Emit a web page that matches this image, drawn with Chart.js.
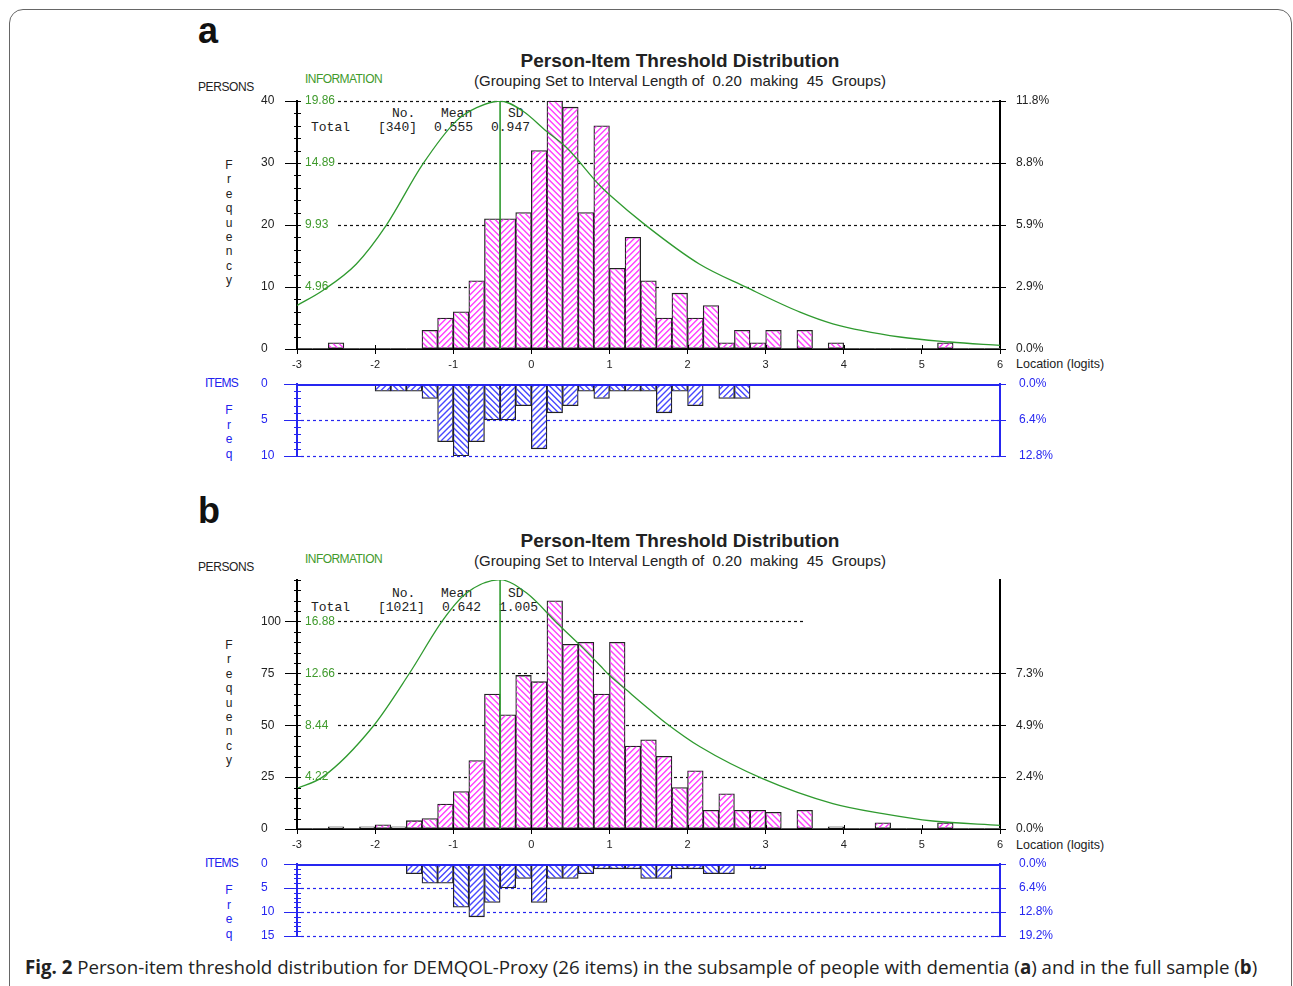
<!DOCTYPE html>
<html>
<head>
<meta charset="utf-8">
<title>Person-Item Threshold Distribution</title>
<script src="https://cdn.jsdelivr.net/npm/chart.js@4.4.1/dist/chart.umd.min.js"></script>
<style>
  html, body { margin: 0; padding: 0; background: #fff; }
  body { width: 1293px; height: 986px; position: relative; overflow: hidden; font-family: "Liberation Sans", Arial, sans-serif; color: #222; }
  .frame { position: absolute; left: 9px; top: 9px; width: 1281px; height: 1010px; border: 1.5px solid #666; border-radius: 14px; }
  .t { position: absolute; white-space: nowrap; line-height: 1; }
  .panel { font-size: 36px; font-weight: bold; color: #111; }
  .title { font-size: 19px; font-weight: bold; width: 500px; text-align: center; }
  .sub { font-size: 15px; width: 500px; text-align: center; }
  .lab { font-size: 12px; }
  .loc { font-size: 12.5px; }
  .green { color: #3f9a2c; }
  .blue { color: #2222ee; }
  .mono { font-family: "Liberation Mono", "DejaVu Sans Mono", monospace; font-size: 13px; }
  .vert { position: absolute; font-size: 12px; width: 10px; text-align: center; }
  .cap { position: absolute; left: 25px; top: 958px; font-family: "Open Sans", sans-serif; font-size: 18.7px; line-height: 1; white-space: nowrap; color: #222; }
  canvas { position: absolute; }
</style>
</head>
<body>
<div class="frame"></div>

<!-- panel a -->
<div class="t panel" style="left:198px;top:13px">a</div>
<div class="t title" style="left:430px;top:51px">Person-Item Threshold Distribution</div>
<div class="t sub" style="left:430px;top:73px">(Grouping Set to Interval Length of&nbsp; 0.20&nbsp; making&nbsp; 45&nbsp; Groups)</div>
<div class="t lab" style="left:198px;top:81px;letter-spacing:-0.4px">PERSONS</div>
<div class="t lab green" style="left:305px;top:73px;letter-spacing:-0.55px">INFORMATION</div>
<div class="vert" style="left:224px;top:158px;line-height:14.4px">F<br>r<br>e<br>q<br>u<br>e<br>n<br>c<br>y</div>
<div class="t mono" style="left:392px;top:107px">No.</div>
<div class="t mono" style="left:441px;top:107px">Mean</div>
<div class="t mono" style="left:508px;top:107px">SD</div>
<div class="t mono" style="left:311px;top:121px">Total</div>
<div class="t mono" style="left:378px;top:121px">[340]</div>
<div class="t mono" style="left:434px;top:121px">0.555</div>
<div class="t mono" style="left:491px;top:121px">0.947</div>
<div class="t loc" style="left:1016px;top:358px">Location (logits)</div>
<div class="t lab blue" style="left:205px;top:377px;letter-spacing:-0.75px">ITEMS</div>
<div class="vert blue" style="left:224px;top:403px;line-height:14.6px">F<br>r<br>e<br>q</div>

<!-- panel b -->
<div class="t panel" style="left:198px;top:493px">b</div>
<div class="t title" style="left:430px;top:531px">Person-Item Threshold Distribution</div>
<div class="t sub" style="left:430px;top:553px">(Grouping Set to Interval Length of&nbsp; 0.20&nbsp; making&nbsp; 45&nbsp; Groups)</div>
<div class="t lab" style="left:198px;top:561px;letter-spacing:-0.4px">PERSONS</div>
<div class="t lab green" style="left:305px;top:553px;letter-spacing:-0.55px">INFORMATION</div>
<div class="vert" style="left:224px;top:638px;line-height:14.4px">F<br>r<br>e<br>q<br>u<br>e<br>n<br>c<br>y</div>
<div class="t mono" style="left:392px;top:587px">No.</div>
<div class="t mono" style="left:441px;top:587px">Mean</div>
<div class="t mono" style="left:508px;top:587px">SD</div>
<div class="t mono" style="left:311px;top:601px">Total</div>
<div class="t mono" style="left:378px;top:601px">[1021]</div>
<div class="t mono" style="left:442px;top:601px">0.642</div>
<div class="t mono" style="left:499px;top:601px">1.005</div>
<div class="t loc" style="left:1016px;top:839px">Location (logits)</div>
<div class="t lab blue" style="left:205px;top:857px;letter-spacing:-0.75px">ITEMS</div>
<div class="vert blue" style="left:224px;top:883px;line-height:14.6px">F<br>r<br>e<br>q</div>

<canvas id="personsA" width="859" height="290" style="left:261px;top:91px"></canvas>
<canvas id="itemsA" width="859" height="90" style="left:261px;top:376px"></canvas>
<canvas id="personsB" width="859" height="291" style="left:261px;top:570px"></canvas>
<canvas id="itemsB" width="859" height="90" style="left:261px;top:856px"></canvas>

<div class="cap"><b>Fig. 2</b> Person-item threshold distribution for DEMQOL-Proxy (26 items) in the subsample of people with dementia (<b>a</b>) and in the full sample (<b>b</b>)</div>

<script>
// 45 groups of 0.20 logits, from -3 to 6
const binCenters = [-2.9, -2.7, -2.5, -2.3, -2.1, -1.9, -1.7, -1.5, -1.3, -1.1,
  -0.9, -0.7, -0.5, -0.3, -0.1, 0.1, 0.3, 0.5, 0.7, 0.9,
  1.1, 1.3, 1.5, 1.7, 1.9, 2.1, 2.3, 2.5, 2.7, 2.9,
  3.1, 3.3, 3.5, 3.7, 3.9, 4.1, 4.3, 4.5, 4.7, 4.9,
  5.1, 5.3, 5.5, 5.7, 5.9];

// (a) subsample with dementia
const personsA = [0, 0, 1, 0, 0, 0, 0, 0, 3, 5,
  6, 11, 21, 21, 22, 32, 40, 39, 22, 36,
  13, 18, 11, 5, 9, 5, 7, 1, 3, 1,
  3, 0, 3, 0, 1, 0, 0, 0, 0, 0,
  0, 1, 0, 0, 0];
const itemsA = [0, 0, 0, 0, 0, 1, 1, 1, 2, 8,
  10, 8, 5, 5, 3, 9, 4, 3, 1, 2,
  1, 1, 1, 4, 1, 3, 0, 2, 2, 0,
  0, 0, 0, 0, 0, 0, 0, 0, 0, 0,
  0, 0, 0, 0, 0];
const infoLocA = [-3.0, -2.67, -2.24, -1.86, -1.39, -0.96, -0.70, -0.40, -0.11, 0.19, 0.45, 0.88, 1.0, 1.47, 2.15, 2.75, 3.44, 3.86, 4.72, 5.36, 6.0];
const infoA = [3.49, 4.69, 6.81, 9.88, 14.8, 18.27, 19.33, 19.86, 19.06, 17.46, 16.13, 13.07, 12.35, 9.88, 6.81, 4.95, 2.95, 2.02, 0.96, 0.56, 0.29];
const infoTicksA = [4.96, 9.93, 14.89, 19.86];
const totalPersonsA = 340;

// (b) full sample
const personsB = [0, 0, 1, 0, 1, 2, 1, 4, 5, 12,
  18, 33, 65, 55, 74, 71, 110, 89, 90, 65,
  90, 40, 43, 35, 20, 28, 9, 17, 9, 9,
  8, 0, 9, 0, 1, 0, 0, 3, 0, 0,
  0, 3, 0, 0, 0];
const itemsB = [0, 0, 0, 0, 0, 0, 0, 2, 4, 4,
  9, 11, 8, 5, 3, 8, 3, 3, 2, 1,
  1, 1, 3, 3, 1, 1, 2, 2, 0, 1,
  0, 0, 0, 0, 0, 0, 0, 0, 0, 0,
  0, 0, 0, 0, 0];
const infoLocB = [-3.0, -2.67, -2.03, -1.56, -1.13, -0.83, -0.40, -0.06, 0.33, 0.62, 0.88, 1.0, 1.22, 1.52, 1.73, 2.16, 2.96, 3.86, 4.50, 5.14, 6.0];
const infoB = [3.29, 4.24, 8.32, 12.67, 17.01, 19.19, 20.28, 19.19, 16.74, 14.98, 13.3, 12.5, 11.3, 9.68, 8.59, 6.69, 4.10, 2.07, 1.25, 0.65, 0.30];
const infoTicksB = [4.22, 8.44, 12.66, 16.88];
const totalPersonsB = 1021;

const totalThresholds = 78;   // 26 items x 3 thresholds
const peakLocation = -0.40;   // green marker line

const GREEN = '#2f9a2f';
const GREEN_TXT = '#3f9a2c';
const BLUE = '#2626f0';
const PINK_HATCH = '#ff40ff';
const BLUE_HATCH = '#4848ff';

Chart.defaults.font.family = '"Liberation Sans", Arial, sans-serif';
Chart.defaults.font.size = 12;
Chart.defaults.color = '#222';

// fixed axis sizes, no extra label padding -> plot areas land where the figure has them
function fixY(w) {
  return s => { s.width = w; s.paddingTop = 0; s.paddingBottom = 0; };
}
function fixX(h) {
  return s => { s.height = h; s.paddingLeft = 0; s.paddingRight = 0; };
}

// diagonal hatching inside each bar, direction alternates from one group to the next
const hatchPlugin = {
  id: 'hatchBars',
  afterDatasetDraw(chart, args) {
    const ds = chart.data.datasets[args.index];
    if (!ds.hatchColor) return;
    const ctx = chart.ctx, gap = 6;
    args.meta.data.forEach((bar, i) => {
      if (!ds.data[i].y) return;
      const p = bar.getProps(['x', 'y', 'base', 'width'], true);
      const l = p.x - p.width / 2 + 0.7, r = p.x + p.width / 2 - 0.7;
      const t = Math.min(p.y, p.base) + 0.7, b = Math.max(p.y, p.base) - 0.7;
      const h = b - t;
      if (h <= 0) return;
      ctx.save();
      ctx.beginPath(); ctx.rect(l, t, r - l, h); ctx.clip();
      ctx.strokeStyle = ds.hatchColor; ctx.lineWidth = 1.4;
      ctx.beginPath();
      const start = Math.floor((l - h - 2) / gap) * gap;
      for (let x = start; x < r + 2; x += gap) {
        if (i % 2) { ctx.moveTo(x, b); ctx.lineTo(x + h + 2, b - h - 2); }
        else { ctx.moveTo(x, t); ctx.lineTo(x + h + 2, t + h + 2); }
      }
      ctx.stroke();
      ctx.restore();
    });
  }
};

// dashed grid, minor ticks, info labels, small axis details
const deco = {
  id: 'deco',
  beforeDatasetsDraw(chart, args, o) {
    const { ctx, chartArea: a, scales } = chart;
    ctx.save();
    ctx.strokeStyle = o.gridColor; ctx.lineWidth = 1.2; ctx.setLineDash([3, 3]);
    (o.gridValues || []).forEach((v, i) => {
      const py = Math.round(scales.y.getPixelForValue(v)) + 0.5;
      const end = o.gridEnds && o.gridEnds[i] != null ? scales.x.getPixelForValue(o.gridEnds[i]) : a.right;
      ctx.beginPath(); ctx.moveTo(a.left + o.gridInset, py); ctx.lineTo(end, py); ctx.stroke();
    });
    ctx.restore();
  },
  afterDraw(chart, args, o) {
    const { ctx, chartArea: a, scales } = chart;
    ctx.save();
    ctx.strokeStyle = o.tickColor; ctx.lineWidth = 1;
    for (let v = 0; v <= scales.y.max + 1e-9; v += o.minorStep) {
      const py = Math.round(scales.y.getPixelForValue(v)) + 0.5;
      ctx.beginPath(); ctx.moveTo(a.left - 3, py); ctx.lineTo(a.left + 4, py); ctx.stroke();
    }
    (o.rightInner || []).forEach(v => {
      const py = Math.round(scales.y.getPixelForValue(v)) + 0.5;
      ctx.beginPath(); ctx.moveTo(a.right - 6, py); ctx.lineTo(a.right, py); ctx.stroke();
    });
    if (o.xTicksUp) {
      for (let v = scales.x.min; v <= scales.x.max; v += 1) {
        const px = Math.round(scales.x.getPixelForValue(v)) + 0.5;
        ctx.beginPath(); ctx.moveTo(px, a.bottom - 4); ctx.lineTo(px, a.bottom); ctx.stroke();
      }
    }
    if (o.topLine) {
      ctx.strokeStyle = o.tickColor; ctx.lineWidth = 2;
      ctx.beginPath(); ctx.moveTo(a.left, a.top + 1); ctx.lineTo(a.right, a.top + 1); ctx.stroke();
    }
    if (o.infoTicks) {
      ctx.fillStyle = GREEN_TXT; ctx.font = '12px "Liberation Sans", Arial, sans-serif';
      ctx.textAlign = 'left'; ctx.textBaseline = 'middle';
      o.infoTicks.forEach(v => ctx.fillText(v.toFixed(2), a.left + 8, scales.yi.getPixelForValue(v)));
    }
    ctx.restore();
  }
};
Chart.register(deco, hatchPlugin);

function pct(total) {
  return v => (v / total * 100).toFixed(1) + '%';
}

function personsChart(id, counts, total, cfg) {
  return new Chart(document.getElementById(id), {
    type: 'bar',
    data: {
      datasets: [
        { type: 'line', data: cfg.loc.map((x, i) => ({ x, y: cfg.info[i] })), yAxisID: 'yi',
          borderColor: GREEN, borderWidth: 1.3, pointRadius: 0, cubicInterpolationMode: 'monotone', order: 1 },
        { type: 'line', data: [{ x: peakLocation, y: 0 }, { x: peakLocation, y: cfg.yMax }], yAxisID: 'y',
          borderColor: GREEN, borderWidth: 1.6, pointRadius: 0, order: 2 },
        { type: 'bar', data: binCenters.map((x, i) => ({ x, y: counts[i] })), yAxisID: 'y',
          backgroundColor: '#fff', hatchColor: PINK_HATCH,
          borderColor: '#222', borderWidth: c => (c.raw && c.raw.y > 0 ? 1.3 : 0), borderSkipped: false,
          barPercentage: 1, categoryPercentage: 1, order: 3 }
      ]
    },
    options: {
      responsive: false, animation: false, events: [],
      layout: { padding: { top: 10, left: 0, right: 0, bottom: 0 } },
      plugins: {
        legend: { display: false }, tooltip: { enabled: false },
        deco: { gridValues: cfg.gridValues, gridEnds: cfg.gridEnds, gridInset: 41, gridColor: '#111',
          minorStep: cfg.minorStep, tickColor: '#000', rightInner: cfg.rightInner, xTicksUp: true, infoTicks: cfg.infoTicks }
      },
      scales: {
        x: { type: 'linear', min: -3, max: 6, offset: false,
          ticks: { stepSize: 1, font: { size: 11 }, padding: 4, color: '#222', autoSkip: false },
          grid: { drawOnChartArea: false, offset: false, tickLength: 5, color: '#000' },
          border: { color: '#000', width: 2 },
          afterFit: fixX(32) },
        y: { position: 'left', min: 0, max: cfg.yMax,
          ticks: { stepSize: cfg.step, includeBounds: false, crossAlign: 'far', color: '#222', autoSkip: false },
          grid: { drawOnChartArea: false, tickLength: 12, color: '#000' },
          border: { color: '#000', width: 2 },
          afterFit: fixY(36) },
        y2: { position: 'right', min: 0, max: cfg.yMax,
          ticks: { stepSize: cfg.step, includeBounds: false, padding: 10, color: '#222', autoSkip: false,
            callback: v => (cfg.rightInner.includes(v) ? pct(total)(v) : '') },
          grid: { drawOnChartArea: false, tickLength: 6, tickColor: c => (cfg.rightInner.includes(c.tick.value) ? '#000' : 'rgba(0,0,0,0)') },
          border: { color: '#000', width: 2 },
          afterFit: fixY(120) },
        yi: { display: false, min: 0, max: cfg.infoMax }
      }
    }
  });
}

function itemsChart(id, counts, cfg) {
  return new Chart(document.getElementById(id), {
    type: 'bar',
    data: {
      datasets: [
        { data: binCenters.map((x, i) => ({ x, y: counts[i] })),
          backgroundColor: '#fff', hatchColor: BLUE_HATCH,
          borderColor: '#222', borderWidth: c => (c.raw && c.raw.y > 0 ? 1.3 : 0), borderSkipped: false,
          barPercentage: 1, categoryPercentage: 1 }
      ]
    },
    options: {
      responsive: false, animation: false, events: [],
      layout: { padding: { top: 8, left: 0, right: 0, bottom: 10 } },
      plugins: {
        legend: { display: false }, tooltip: { enabled: false },
        deco: { gridValues: cfg.gridValues, gridInset: 4, gridColor: BLUE, minorStep: 1, tickColor: BLUE,
          rightInner: cfg.gridValues, topLine: true }
      },
      scales: {
        x: { type: 'linear', min: -3, max: 6, offset: false, display: false },
        y: { position: 'left', min: 0, max: cfg.yMax, reverse: true,
          ticks: { stepSize: 5, crossAlign: 'far', color: BLUE, autoSkip: false },
          grid: { drawOnChartArea: false, tickLength: 13, color: BLUE },
          border: { color: BLUE, width: 2 },
          afterFit: fixY(36) },
        y2: { position: 'right', min: 0, max: cfg.yMax, reverse: true,
          ticks: { stepSize: 5, padding: 13, color: BLUE, autoSkip: false, callback: pct(totalThresholds) },
          grid: { drawOnChartArea: false, tickLength: 6, color: BLUE },
          border: { color: BLUE, width: 2 },
          afterFit: fixY(120) }
      }
    }
  });
}

personsChart('personsA', personsA, totalPersonsA, {
  yMax: 40, step: 10, minorStep: 2, gridValues: [10, 20, 30, 40], rightInner: [0, 10, 20, 30, 40],
  loc: infoLocA, info: infoA, infoTicks: infoTicksA, infoMax: infoTicksA[3]
});
itemsChart('itemsA', itemsA, { yMax: 10, gridValues: [5, 10] });

personsChart('personsB', personsB, totalPersonsB, {
  yMax: 120, step: 25, minorStep: 5, gridValues: [25, 50, 75, 100], gridEnds: [null, null, null, 3.48],
  rightInner: [0, 25, 50, 75],
  loc: infoLocB, info: infoB, infoTicks: infoTicksB, infoMax: infoTicksB[3] * 120 / 100
});
itemsChart('itemsB', itemsB, { yMax: 15, gridValues: [5, 10, 15] });
</script>
</body>
</html>
